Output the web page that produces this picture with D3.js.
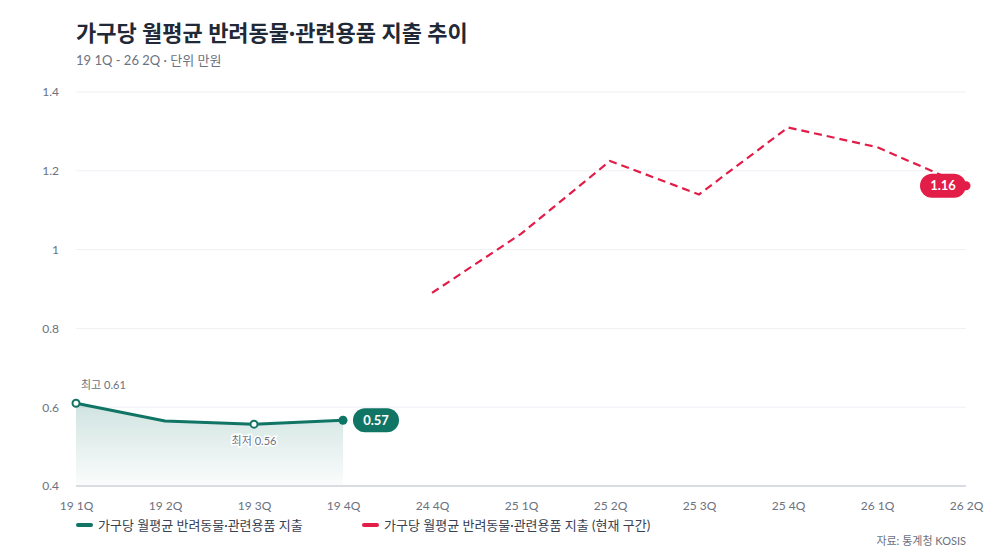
<!DOCTYPE html>
<html>
<head>
<meta charset="utf-8">
<script src="https://cdn.jsdelivr.net/npm/d3@7"></script>
<style>
  body { margin: 0; background: #fff; }
  svg text { font-family: Lato, "Noto Sans CJK KR", "Noto Sans", sans-serif; }
</style>
</head>
<body>
<script>
var w = 1000,
    h = 560,
    margin = {top: 92, right: 34, bottom: 74, left: 76};

// data
var quarters = ["19 1Q", "19 2Q", "19 3Q", "19 4Q", "24 4Q", "25 1Q", "25 2Q", "25 3Q", "25 4Q", "26 1Q", "26 2Q"];
var pastQuarters = ["19 1Q", "19 2Q", "19 3Q", "19 4Q"];
var pastValues = [0.61, 0.565, 0.557, 0.567];
var currentQuarters = ["24 4Q", "25 1Q", "25 2Q", "25 3Q", "25 4Q", "26 1Q", "26 2Q"];
var currentValues = [0.89, 1.04, 1.225, 1.14, 1.31, 1.26, 1.162];
var yTicks = [0.4, 0.6, 0.8, 1, 1.2, 1.4];
var seriesNames = ["가구당 월평균 반려동물·관련용품 지출", "가구당 월평균 반려동물·관련용품 지출 (현재 구간)"];

var teal = "#117565",
    red = "#e11d48";

var past = pastQuarters.map(function(q, i) { return {q: q, v: pastValues[i]}; });
var current = currentQuarters.map(function(q, i) { return {q: q, v: currentValues[i]}; });

var svg = d3.select("body").append("svg")
    .attr("width", w)
    .attr("height", h);

var x = d3.scalePoint().domain(quarters).range([margin.left, w - margin.right]);
var y = d3.scaleLinear().domain([0.4, 1.4]).range([h - margin.bottom, margin.top]);

// title
svg.append("text")
    .attr("x", 76).attr("y", 41)
    .attr("font-size", 22).attr("font-weight", 700)
    .attr("fill", "#1f2937")
    .text("가구당 월평균 반려동물·관련용품 지출 추이");

svg.append("text")
    .attr("x", 76).attr("y", 65)
    .attr("font-size", 13)
    .attr("fill", "#6b7280")
    .text("19 1Q - 26 2Q · 단위 만원");

// grid
svg.append("g").selectAll("line").data(yTicks.slice(1)).enter().append("line")
    .attr("x1", margin.left).attr("x2", w - margin.right)
    .attr("y1", function(d) { return y(d); })
    .attr("y2", function(d) { return y(d); })
    .attr("stroke", "#eef0f4").attr("stroke-width", 1);

// y axis
var yAxis = svg.append("g")
    .attr("transform", "translate(" + (margin.left - 14) + ",0)")
    .call(d3.axisLeft(y).tickValues(yTicks).tickSize(0).tickFormat(d3.format("~g")));
yAxis.select(".domain").remove();
yAxis.selectAll("text").attr("font-size", 12).attr("fill", "#6b7280");

// x axis
var xAxis = svg.append("g")
    .attr("transform", "translate(0," + y(0.4) + ")")
    .call(d3.axisBottom(x).tickSize(0).tickPadding(15));
xAxis.select(".domain").remove();
xAxis.selectAll("text").attr("font-size", 12).attr("fill", "#6b7280");

svg.append("line")
    .attr("x1", margin.left).attr("x2", w - margin.right)
    .attr("y1", y(0.4)).attr("y2", y(0.4))
    .attr("stroke", "#d9dce2").attr("stroke-width", 2);

// area gradient
var defs = svg.append("defs");
var grad = defs.append("linearGradient")
    .attr("id", "area-grad")
    .attr("x1", "0%").attr("y1", "0%")
    .attr("x2", "0%").attr("y2", "100%");
grad.append("stop").attr("offset", "0%").attr("stop-color", teal).attr("stop-opacity", 0.2);
grad.append("stop").attr("offset", "100%").attr("stop-color", teal).attr("stop-opacity", 0.02);

svg.append("path")
    .datum(past)
    .attr("fill", "url(#area-grad)")
    .attr("d", d3.area()
      .x(function(d) { return x(d.q); })
      .y0(y(0.4) - 1)
      .y1(function(d) { return y(d.v); }));

var line = d3.line()
    .x(function(d) { return x(d.q); })
    .y(function(d) { return y(d.v); });

svg.append("path")
    .datum(past)
    .attr("fill", "none")
    .attr("stroke", teal).attr("stroke-width", 3)
    .attr("stroke-linejoin", "round")
    .attr("d", line);

svg.append("path")
    .datum(current)
    .attr("fill", "none")
    .attr("stroke", red).attr("stroke-width", 2.2)
    .attr("stroke-dasharray", "8,5")
    .attr("d", line);

// max / min markers
var maxP = past[d3.maxIndex(past, function(d) { return d.v; })];
var minP = past[d3.minIndex(past, function(d) { return d.v; })];

[maxP, minP].forEach(function(p) {
  svg.append("circle")
      .attr("cx", x(p.q)).attr("cy", y(p.v)).attr("r", 3.5)
      .attr("fill", "#fff").attr("stroke", teal).attr("stroke-width", 2);
});

function note(tx, ty, anchor, txt) {
  svg.append("text")
      .attr("x", tx).attr("y", ty)
      .attr("text-anchor", anchor)
      .attr("font-size", 11)
      .attr("fill", "#6b7280")
      .attr("stroke", "#fff").attr("stroke-width", 3).attr("paint-order", "stroke")
      .text(txt);
}
note(x(maxP.q) + 5, y(maxP.v) - 14, "start", "최고 " + d3.format(".2f")(maxP.v));
note(x(minP.q), y(minP.v) + 21, "middle", "최저 " + d3.format(".2f")(minP.v));

// end points + value pills
function endLabel(p, color, cx, fmt) {
  svg.append("circle")
      .attr("cx", x(p.q)).attr("cy", y(p.v)).attr("r", 4.5)
      .attr("fill", color);
  var g = svg.append("g").attr("transform", "translate(" + cx + "," + y(p.v) + ")");
  g.append("rect")
      .attr("x", -23).attr("y", -12).attr("width", 46).attr("height", 24)
      .attr("rx", 12).attr("fill", color);
  g.append("text")
      .attr("text-anchor", "middle").attr("dy", "0.36em")
      .attr("font-size", 13).attr("font-weight", 700)
      .attr("fill", "#fff")
      .text(fmt(p.v));
}
endLabel(past[past.length - 1], teal, x(past[past.length - 1].q) + 33, d3.format(".2f"));
endLabel(current[current.length - 1], red, x(current[current.length - 1].q) - 23, d3.format(".2f"));

// legend
var legend = svg.append("g").attr("transform", "translate(76,525)");
[[teal, 0], [red, 286]].forEach(function(item, i) {
  var g = legend.append("g").attr("transform", "translate(" + item[1] + ",0)");
  g.append("line")
      .attr("x1", 2).attr("x2", 15).attr("y1", 0).attr("y2", 0)
      .attr("stroke", item[0]).attr("stroke-width", 4).attr("stroke-linecap", "round");
  g.append("text")
      .attr("x", 22).attr("dy", "0.35em")
      .attr("font-size", 13).attr("fill", "#374151")
      .text(seriesNames[i]);
});

// source
svg.append("text")
    .attr("x", w - margin.right).attr("y", 545)
    .attr("text-anchor", "end")
    .attr("font-size", 11).attr("fill", "#6b7280")
    .text("자료: 통계청 KOSIS");
</script>
</body>
</html>
